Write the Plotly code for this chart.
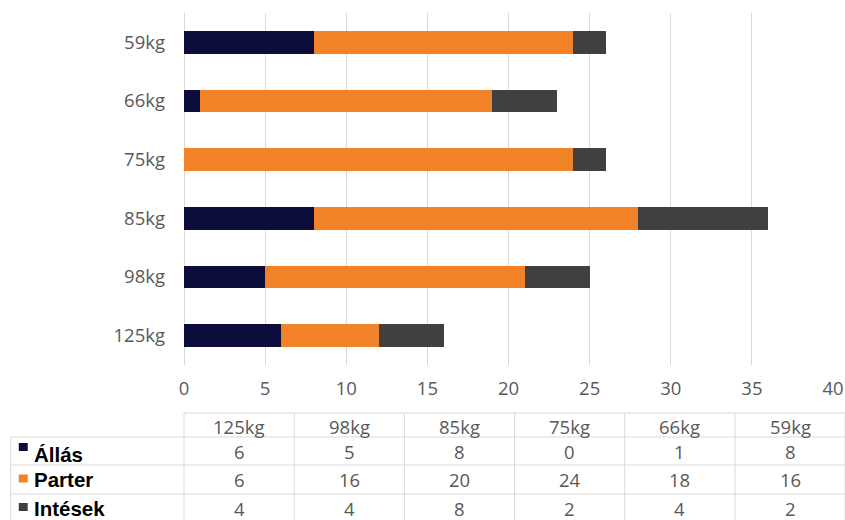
import plotly.graph_objects as go

categories = ["125kg", "98kg", "85kg", "75kg", "66kg", "59kg"]
allas = [6, 5, 8, 0, 1, 8]
parter = [6, 16, 20, 24, 18, 16]
intesek = [4, 4, 8, 2, 4, 2]
series_names = ["Állás", "Parter", "Intések"]
series_values = [allas, parter, intesek]
colors = ["#0d0d3b", "#f28228", "#404040"]
x_ticks = [0, 5, 10, 15, 20, 25, 30, 35, 40]

# horizontal compensation for the capture (target layout is given in 845-wide pixels)
S = 855 / 845
W, H = 855, 520
L, R = 182 * S, (845 - 834) * S
T, B = 13, 520 - 365
PW, PH = W - L - R, H - T - B


def px(x):
    return (x * S - L) / PW


def py(y):
    return (H - B - y) / PH


fig = go.Figure()
for name, vals, col in zip(series_names, series_values, colors):
    fig.add_trace(go.Bar(
        y=categories, x=vals, name=name, orientation="h",
        marker=dict(color=col, line=dict(width=0)), width=0.39,
    ))

text_font = "Open Sans, Lato, sans-serif"
gray = "#595959"
line_col = "#d9d9d9"

shapes = []
annotations = []

col_edges = [182 + i * 110.7 for i in range(7)]
row_lines = [413, 437, 465, 494, 522]
row_centers = [451, 479.5, 508]

for xe in col_edges:
    shapes.append(dict(type="line", xref="paper", yref="paper",
                       x0=px(xe), x1=px(xe), y0=py(413), y1=py(522),
                       line=dict(color=line_col, width=1)))
shapes.append(dict(type="line", xref="paper", yref="paper",
                   x0=px(8), x1=px(8), y0=py(437), y1=py(522),
                   line=dict(color=line_col, width=1)))
for j, yl in enumerate(row_lines):
    x_start = 182 if j == 0 else 8
    shapes.append(dict(type="line", xref="paper", yref="paper",
                       x0=px(x_start), x1=px(col_edges[-1]), y0=py(yl), y1=py(yl),
                       line=dict(color=line_col, width=1)))

for i, cat in enumerate(categories):
    cx = (col_edges[i] + col_edges[i + 1]) / 2
    annotations.append(dict(xref="paper", yref="paper", x=px(cx), y=py(426),
                            text=cat, showarrow=False, xanchor="center", yanchor="middle",
                            font=dict(family=text_font, size=18.5, color=gray)))
for r, (name, vals, col) in enumerate(zip(series_names, series_values, colors)):
    cy = row_centers[r]
    for i, v in enumerate(vals):
        cx = (col_edges[i] + col_edges[i + 1]) / 2
        annotations.append(dict(xref="paper", yref="paper", x=px(cx), y=py(cy),
                                text=str(v), showarrow=False, xanchor="center", yanchor="middle",
                                font=dict(family=text_font, size=18.5, color=gray)))
    my = cy - 1 if r > 0 else cy - 4
    shapes.append(dict(type="rect", xref="paper", yref="paper",
                       x0=px(16), x1=px(25), y0=py(my - 4), y1=py(my + 4),
                       fillcolor=col, line=dict(width=0)))
    annotations.append(dict(xref="paper", yref="paper", x=px(29), y=py(cy + (3 if r == 0 else 0)),
                            text="<b>" + name + "</b>", showarrow=False, xanchor="left", yanchor="middle",
                            font=dict(family="Liberation Sans, Arial, sans-serif", size=20.5, color="#000000")))

fig.update_layout(
    width=W, height=H,
    margin=dict(l=L, r=R, t=T, b=B),
    barmode="stack",
    showlegend=False,
    plot_bgcolor="white", paper_bgcolor="white",
    shapes=shapes, annotations=annotations,
    xaxis=dict(range=[0, 40], tickvals=x_ticks, showgrid=True, gridcolor=line_col, gridwidth=1,
               zeroline=True, zerolinecolor=line_col, zerolinewidth=1, showline=False,
               tickfont=dict(family=text_font, size=18.5, color=gray), ticks="", ticklabelstandoff=10,
               fixedrange=True),
    yaxis=dict(categoryorder="array", categoryarray=categories, showgrid=False, zeroline=False,
               showline=False, tickfont=dict(family=text_font, size=18.5, color=gray), ticks="",
               ticklabelstandoff=18, range=[-0.5, 5.5], fixedrange=True),
)

fig.write_html("out.html", config={"displayModeBar": False, "staticPlot": True},
               post_script="document.body.style.margin='0';document.body.style.overflow='hidden';")
